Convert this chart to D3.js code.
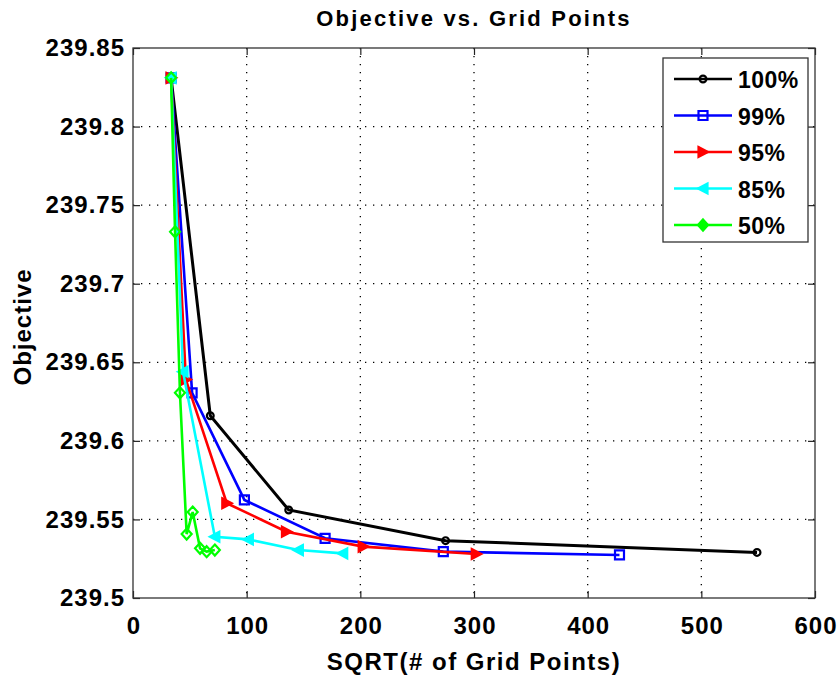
<!DOCTYPE html>
<html>
<head>
<meta charset="utf-8">
<script src="https://cdn.jsdelivr.net/npm/d3@7"></script>
<style>
  html, body { margin: 0; padding: 0; background: #fff; }
  svg text { font-family: "Liberation Sans", Arial, Helvetica, sans-serif; font-weight: bold; fill: #000; }
</style>
</head>
<body>
<svg id="chart" width="838" height="675"></svg>
<script>
// Objective value against sqrt(grid points), one series per percentage
const seriesNames = ["100%", "99%", "95%", "85%", "50%"];
const seriesColors = ["#000000", "#0000ff", "#ff0000", "#00ffff", "#00ff00"];
const seriesMarkers = ["circle", "square", "triangleRight", "triangleLeft", "diamond"];

const x100 = [33.5, 68, 137, 275, 549];
const y100 = [239.831, 239.616, 239.556, 239.5365, 239.529];
const x99 = [33.5, 52, 98, 169, 273, 428];
const y99 = [239.831, 239.6305, 239.5624, 239.538, 239.5295, 239.5274];
const x95 = [33.5, 46.5, 82.5, 135, 202.5, 302];
const y95 = [239.831, 239.639, 239.5603, 239.5422, 239.5327, 239.528];
const x85 = [33.5, 44, 72, 101.5, 145.5, 184.5];
const y85 = [239.831, 239.644, 239.539, 239.5373, 239.5305, 239.5284];
const x50 = [33.5, 37, 41.3, 47.2, 52.5, 59, 64.8, 72];
const y50 = [239.831, 239.733, 239.6306, 239.5407, 239.5547, 239.5316, 239.5295, 239.5305];

const xTicks = [0, 100, 200, 300, 400, 500, 600];
const yTicks = [239.5, 239.55, 239.6, 239.65, 239.7, 239.75, 239.8, 239.85];
const yTickLabels = ["239.5", "239.55", "239.6", "239.65", "239.7", "239.75", "239.8", "239.85"];

const titleText = "Objective vs. Grid Points";
const xLabelText = "SQRT(# of Grid Points)";
const yLabelText = "Objective";

const xsAll = [x100, x99, x95, x85, x50];
const ysAll = [y100, y99, y95, y85, y50];
const series = seriesNames.map((name, i) => ({
  name, color: seriesColors[i], marker: seriesMarkers[i],
  points: xsAll[i].map((x, j) => ({ x, y: ysAll[i][j] }))
}));

const svg = d3.select("#chart");
const plotL = 133, plotR = 815, plotT = 48, plotB = 598;

const x = d3.scaleLinear().domain([0, 600]).range([plotL, plotR]);
const y = d3.scaleLinear().domain([239.5, 239.85]).range([plotB, plotT]);

// dotted grid
const grid = svg.append("g");
grid.selectAll("line.gx").data(xTicks.slice(1, -1)).join("line")
  .attr("x1", d => x(d)).attr("x2", d => x(d)).attr("y1", plotT).attr("y2", plotB)
  .attr("stroke", "#000").attr("stroke-width", 1.3).attr("stroke-dasharray", "1.3,6.7");
grid.selectAll("line.gy").data(yTicks.slice(1, -1)).join("line")
  .attr("y1", d => y(d)).attr("y2", d => y(d)).attr("x1", plotL).attr("x2", plotR)
  .attr("stroke", "#000").attr("stroke-width", 1.3).attr("stroke-dasharray", "1.3,6.7");

// axes with inward ticks on all four sides
const tickLen = 7;
const fmtY = d => yTickLabels[yTicks.indexOf(d)];
svg.append("g").attr("transform", `translate(0,${plotB})`)
  .call(d3.axisBottom(x).tickValues(xTicks).tickSizeInner(-tickLen).tickSizeOuter(0).tickPadding(19).tickFormat(d3.format("d")))
  .call(g => g.select(".domain").remove())
  .call(g => g.selectAll("text").attr("font-size", 24).attr("letter-spacing", 1).attr("dx", "0.5").attr("font-family", null));
svg.append("g").attr("transform", `translate(${plotL},0)`)
  .call(d3.axisLeft(y).tickValues(yTicks).tickSizeInner(-tickLen).tickSizeOuter(0).tickPadding(8).tickFormat(fmtY))
  .call(g => g.select(".domain").remove())
  .call(g => g.selectAll("text").attr("font-size", 24).attr("letter-spacing", 1).attr("font-family", null));
svg.append("g").attr("transform", `translate(0,${plotT})`)
  .call(d3.axisTop(x).tickValues(xTicks).tickSizeInner(-tickLen).tickSizeOuter(0).tickFormat(""))
  .call(g => g.select(".domain").remove());
svg.append("g").attr("transform", `translate(${plotR},0)`)
  .call(d3.axisRight(y).tickValues(yTicks).tickSizeInner(-tickLen).tickSizeOuter(0).tickFormat(""))
  .call(g => g.select(".domain").remove());
svg.selectAll(".tick line").attr("stroke", "#222").attr("stroke-width", 1.2);

svg.append("rect").attr("x", plotL).attr("y", plotT).attr("width", plotR - plotL).attr("height", plotB - plotT)
  .attr("fill", "none").attr("stroke", "#333").attr("stroke-width", 1.3);

// marker shapes
function markerPath(type) {
  switch (type) {
    case "circle": return d3.symbol(d3.symbolCircle, 36)();
    case "square": return "M-4.5,-4.5H4.5V4.5H-4.5Z";
    case "triangleRight": return "M-4.5,-5L5,0L-4.5,5Z";
    case "triangleLeft": return "M4.5,-5L-5,0L4.5,5Z";
    case "diamond": return "M0,-5.5L5,0L0,5.5L-5,0Z";
  }
}
const filled = t => t === "triangleRight" || t === "triangleLeft";

const line = d3.line().x(d => x(d.x)).y(d => y(d.y));
const plot = svg.append("g");
series.forEach(s => {
  plot.append("path").datum(s.points).attr("d", line)
    .attr("fill", "none").attr("stroke", s.color).attr("stroke-width", s.name === "100%" ? 3 : 2.6)
    .attr("stroke-linejoin", "miter");
  plot.selectAll(null).data(s.points).join("path")
    .attr("transform", d => `translate(${x(d.x)},${y(d.y)})`)
    .attr("d", markerPath(s.marker))
    .attr("fill", filled(s.marker) ? s.color : "none")
    .attr("stroke", s.color).attr("stroke-width", 2.2);
});

// legend
const lg = svg.append("g");
const lgX = 663, lgY = 58, lgW = 145, lgH = 184, rowH = 36.5;
lg.append("rect").attr("x", lgX).attr("y", lgY).attr("width", lgW).attr("height", lgH)
  .attr("fill", "#fff").attr("stroke", "#333").attr("stroke-width", 1.3);
series.forEach((s, i) => {
  const cy = lgY + 21 + i * rowH;
  lg.append("line").attr("x1", lgX + 11).attr("x2", lgX + 69).attr("y1", cy).attr("y2", cy)
    .attr("stroke", s.color).attr("stroke-width", 2.6);
  lg.append("path").attr("transform", `translate(${lgX + 40},${cy})`).attr("d", markerPath(s.marker))
    .attr("fill", filled(s.marker) ? s.color : (s.marker === "diamond" ? s.color : "none"))
    .attr("stroke", s.color).attr("stroke-width", 2.2);
  lg.append("text").attr("x", lgX + 75).attr("y", cy + 9).attr("font-size", 23).attr("letter-spacing", 0.5).text(s.name);
});

// title and axis labels
svg.append("text").attr("x", (plotL + plotR) / 2).attr("y", 26).attr("text-anchor", "middle")
  .attr("font-size", 22).attr("letter-spacing", 2.2).text(titleText);
svg.append("text").attr("x", (plotL + plotR) / 2).attr("y", 670).attr("text-anchor", "middle")
  .attr("font-size", 24).attr("letter-spacing", 1.5).text(xLabelText);
svg.append("text").attr("transform", `translate(31,${327}) rotate(-90)`)
  .attr("text-anchor", "middle").attr("font-size", 24).attr("letter-spacing", 1).text(yLabelText);
</script>
</body>
</html>
